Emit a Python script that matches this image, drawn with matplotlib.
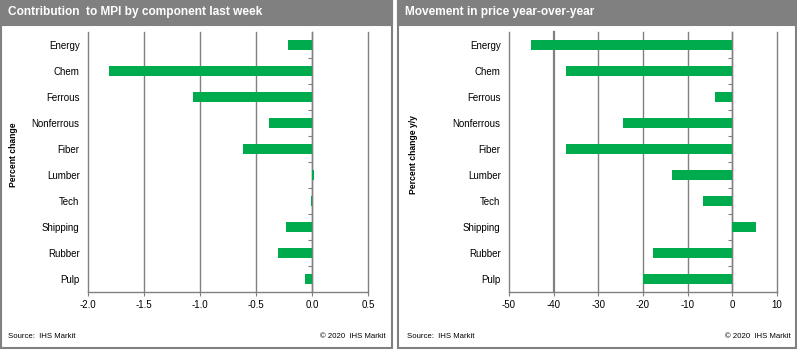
import matplotlib.pyplot as plt
from matplotlib.patches import Rectangle

plt.rcParams['font.family'] = ['Liberation Sans', 'DejaVu Sans']

# data
categories = ['Energy', 'Chem', 'Ferrous', 'Nonferrous', 'Fiber',
              'Lumber', 'Tech', 'Shipping', 'Rubber', 'Pulp']
contribution = [-0.21, -1.815, -1.06, -0.38, -0.62, 0.015, -0.01, -0.23, -0.30, -0.06]
yoy_change = [-45.1, -37.2, -3.9, -24.5, -37.2, -13.5, -6.6, 5.3, -17.8, -20.0]

left_ticks = [-2.0, -1.5, -1.0, -0.5, 0.0, 0.5]
right_ticks = [-50, -40, -30, -20, -10, 0, 10]

W, H = 797, 350
green = '#00AB4E'
grey = '#808080'

fig = plt.figure(figsize=(W / 100, H / 100), dpi=100)


def panel(x0, x1, title):
    # outer frame + header bar, pixel units -> figure fraction
    fig.patches.append(Rectangle((x0 / W, 2 / H), (x1 - x0) / W, (H - 3) / H,
                                 transform=fig.transFigure, facecolor='white',
                                 edgecolor=grey, lw=1.5, zorder=-10))
    fig.patches.append(Rectangle((x0 / W, (H - 25) / H), (x1 - x0) / W, 25 / H,
                                 transform=fig.transFigure, facecolor=grey,
                                 edgecolor=grey, lw=1.5, zorder=-9))
    fig.text((x0 + 7) / W, (H - 12.5) / H, title, color='white', fontsize=8.6,
             fontweight='bold', va='center', ha='left')


def chart(ax, values, ticks, fmt, ylabel, label_x):
    y = list(range(len(categories)))
    ax.set_facecolor('none')
    ax.barh(y, values, height=0.4, color=green, zorder=3)
    ax.set_ylim(len(categories) - 0.5, -0.5)
    ax.set_xlim(ticks[0], ticks[-1])
    ax.set_xticks(ticks)
    ax.set_xticklabels([fmt.format(t) for t in ticks], fontsize=7)
    ax.set_yticks(y)
    ax.set_yticklabels(categories, fontsize=7)
    ax.tick_params(axis='y', length=0, pad=6)
    ax.tick_params(axis='x', length=3, color=grey, pad=2.5)
    ax.grid(axis='x', color=grey, lw=1, zorder=0)
    for gl in ax.get_xgridlines():
        gl.set_clip_on(False)
    for s in ['top', 'right', 'left']:
        ax.spines[s].set_visible(False)
    ax.spines['bottom'].set_color(grey)
    ax.spines['bottom'].set_linewidth(1)
    # zero line with category ticks
    zero = (0 - ticks[0]) / (ticks[-1] - ticks[0])
    sec = ax.secondary_yaxis(zero)
    sec.set_yticks([i + 0.5 for i in range(len(categories) - 1)])
    sec.set_yticklabels([])
    sec.tick_params(length=3, color=grey, direction='in')
    for s in sec.spines.values():
        s.set_color(grey)
        s.set_linewidth(1)
    fig.text(label_x / W, (H - 155) / H, ylabel, rotation=90, fontsize=6.2,
             fontweight='bold', va='center', ha='center')


panel(1, 392, 'Contribution  to MPI by component last week')
panel(398, 796, 'Movement in price year-over-year')

ax1 = fig.add_axes([88 / W, (H - 292) / H, 280 / W, 260 / H])
chart(ax1, contribution, left_ticks, '{:.1f}', 'Percent change', 14)

ax2 = fig.add_axes([509 / W, (H - 292) / H, 268 / W, 260 / H])
chart(ax2, yoy_change, right_ticks, '{:d}', 'Percent change y/y', 413)
ax2.get_xgridlines()[1].set_linewidth(1.6)

for x0, x1 in [(8, 386), (407, 791)]:
    fig.text(x0 / W, (H - 337) / H, 'Source:  IHS Markit', fontsize=5.6, va='center')
    fig.text(x1 / W, (H - 337) / H, '\u00a9 2020  IHS Markit', fontsize=5.6,
             va='center', ha='right')

fig.savefig('out.png', dpi=100)
